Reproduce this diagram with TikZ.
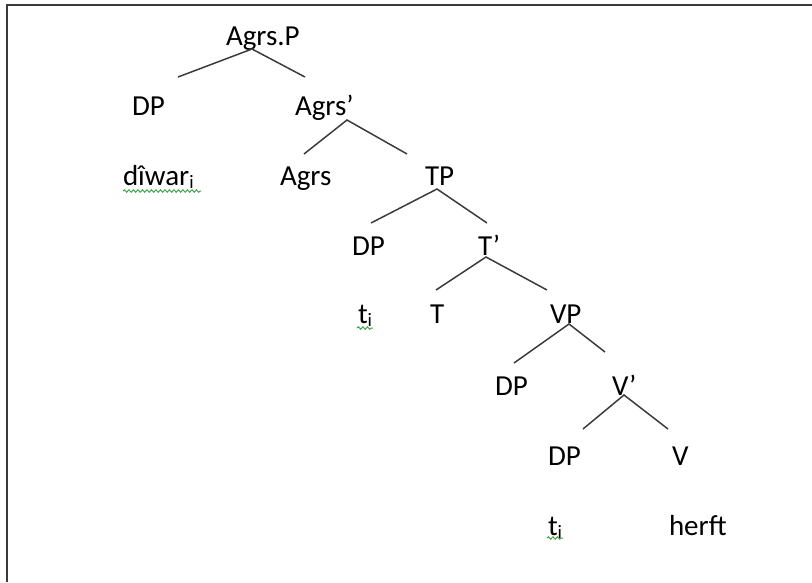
\documentclass[tikz,border=0pt]{standalone}
\usepackage{fontspec}
\setmainfont{Carlito}
\usetikzlibrary{decorations.pathmorphing}
\definecolor{linegray}{HTML}{3C3C3C}
\definecolor{framegray}{HTML}{3A3A3A}
\definecolor{spellgreen}{HTML}{3FA34D}
\newcommand\subidx{\raisebox{-3pt}{\fontsize{19}{19}\selectfont i}}
\tikzset{
  lbl/.style={anchor=base west, inner sep=0pt, outer sep=0pt, font=\fontsize{29}{29}\selectfont, text=black},
  branch/.style={draw=linegray, line width=1.5pt},
  squiggle/.style={draw=spellgreen, line width=1pt, decorate, decoration={snake, amplitude=1.2pt, segment length=4.5pt}},
  frame/.style={draw=framegray, line width=1.6pt}
}
\begin{document}
\begin{tikzpicture}[x=1pt,y=-1pt]
\useasboundingbox (0,0) rectangle (812,582);
% frame
\coordinate (fbl) at (7,582);
\coordinate (ftl) at (7,5);
\coordinate (ftr) at (812,5);
\draw[frame] (fbl) -- (ftl) -- (ftr);
% labels
\node[lbl] (agrsp) at (226,45) {Agrs.P};
\node[lbl] (dp1) at (132,115) {DP};
\node[lbl] (agrsbar) at (295,115) {Agrs’};
\node[lbl] (diwar) at (123,185) {dîwar\subidx};
\node[lbl] (agrs) at (280,185) {Agrs};
\node[lbl] (tp) at (425,185) {TP};
\node[lbl] (dp2) at (352,255) {DP};
\node[lbl] (tbar) at (478,255) {T’};
\node[lbl] (t1) at (358,323) {t\subidx};
\node[lbl] (thead) at (430,323) {T};
\node[lbl] (vp) at (550,323) {VP};
\node[lbl] (dp3) at (495,395) {DP};
\node[lbl] (vbar) at (612,395) {V’};
\node[lbl] (dp4) at (548,465) {DP};
\node[lbl] (vhead) at (672,465) {V};
\node[lbl] (t2) at (548,535) {t\subidx};
\node[lbl] (herft) at (669,535) {herft};
% branch points
\coordinate (a0) at (252,49); \coordinate (a1) at (178,77); \coordinate (a2) at (305,77);
\coordinate (b0) at (347,120); \coordinate (b1) at (304,154); \coordinate (b2) at (407,154);
\coordinate (c0) at (437,189); \coordinate (c1) at (371,223); \coordinate (c2) at (487,223);
\coordinate (d0) at (486,257); \coordinate (d1) at (436,290); \coordinate (d2) at (547,290);
\coordinate (e0) at (569,324); \coordinate (e1) at (514,363); \coordinate (e2) at (605,352);
\coordinate (f0) at (624,395); \coordinate (f1) at (583,429); \coordinate (f2) at (668,429);
\draw[branch] (a1) -- (a0) -- (a2);
\draw[branch] (b1) -- (b0) -- (b2);
\draw[branch] (c1) -- (c0) -- (c2);
\draw[branch] (d1) -- (d0) -- (d2);
\draw[branch] (e1) -- (e0) -- (e2);
\draw[branch] (f1) -- (f0) -- (f2);
% spell-check squiggles
\coordinate (s1a) at (123,191); \coordinate (s1b) at (201,191);
\coordinate (s2a) at (357,328); \coordinate (s2b) at (373,328);
\coordinate (s3a) at (547,538); \coordinate (s3b) at (563,538);
\draw[squiggle] (s1a) -- (s1b);
\draw[squiggle] (s2a) -- (s2b);
\draw[squiggle] (s3a) -- (s3b);
\end{tikzpicture}
\end{document}
